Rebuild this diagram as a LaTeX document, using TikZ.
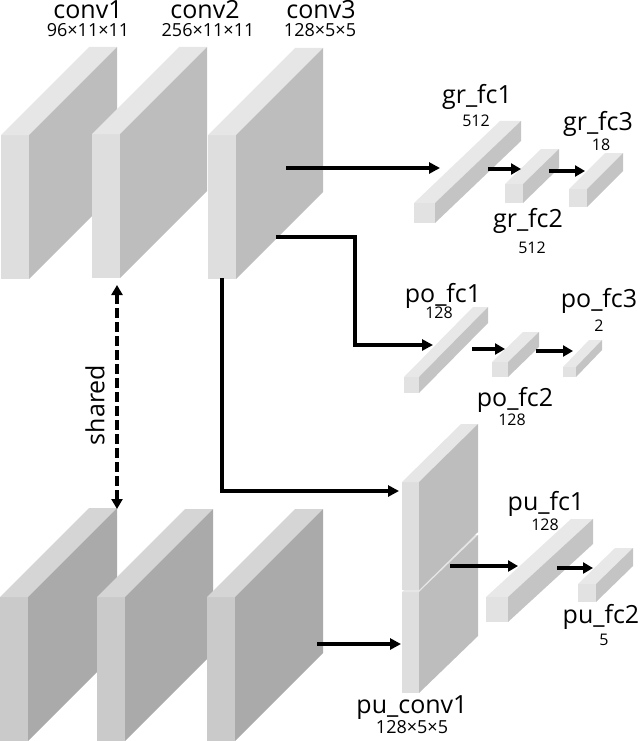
\documentclass[tikz,border=0pt]{standalone}
\usepackage{fontspec}
\setmainfont{Open Sans}
\usetikzlibrary{arrows.meta}
\definecolor{tF}{HTML}{DEDEDE}\definecolor{tT}{HTML}{E6E6E6}\definecolor{tS}{HTML}{BDBDBD}
\definecolor{bF}{HTML}{CACACA}\definecolor{bT}{HTML}{D5D5D5}\definecolor{bS}{HTML}{AAAAAA}
\definecolor{fF}{HTML}{E2E2E2}\definecolor{fT}{HTML}{E8E8E8}\definecolor{fS}{HTML}{C4C4C4}
\tikzset{
  tfront/.style={fill=tF}, ttop/.style={fill=tT}, tside/.style={fill=tS},
  bfront/.style={fill=bF}, btop/.style={fill=bT}, bside/.style={fill=bS},
  ffront/.style={fill=fF}, ftop/.style={fill=fT}, fside/.style={fill=fS},
  lblname/.style={font=\fontsize{25}{25}\selectfont, inner sep=0pt, anchor=base},
  lbldims/.style={font=\fontsize{18}{18}\selectfont, inner sep=0pt, anchor=base},
  lblnum/.style={font=\fontsize{16}{16}\selectfont, inner sep=0pt, anchor=base},
  conn/.style={line width=3.5pt, -{Triangle[length=11pt,width=11pt]}},
  sconn/.style={line width=4pt, -{Triangle[length=10pt,width=11pt]}},
}
% #1 style prefix, #2 x, #3 y (front top-left), #4 w, #5 h, #6 dx, #7 dy
\newcommand{\cuboid}[7]{%
  \fill[#1front] (#2,#3) rectangle ++(#4,#5);
  \fill[#1top] (#2,#3) -- ++(#6,-#7) -- ++(#4,0) -- ++(-#6,#7) -- cycle;
  \fill[#1side] (#2+#4,#3) -- ++(#6,-#7) -- ++(0,#5) -- ++(-#6,#7) -- cycle;
}
\begin{document}
\begin{tikzpicture}[x=1pt,y=-1pt]
\useasboundingbox (0,0) rectangle (640,741);
% top row
\cuboid{t}{1}{135}{28}{144}{88}{88}
\cuboid{t}{92}{134}{28}{144}{87}{87}
\cuboid{t}{208}{135}{28}{144}{87}{87}
% bottom row
\cuboid{b}{0}{597}{28}{144}{89}{89}
\cuboid{b}{97}{597}{28}{144}{88}{88}
\cuboid{b}{207}{597}{28}{144}{88}{88}
% pu_conv1 (two stacked)
\cuboid{t}{402}{592}{17}{101}{59}{57}
\cuboid{t}{402}{482}{17}{108}{59}{58}
% fc bars
\cuboid{f}{414}{203}{21}{20}{86}{82}
\cuboid{f}{505}{184}{18}{19}{36}{35}
\cuboid{f}{569}{189}{18}{18}{36}{36}
\cuboid{f}{404}{377}{15}{16}{69}{70}
\cuboid{f}{492}{362}{16}{15}{31}{30}
\cuboid{f}{563}{367}{13}{10}{26}{27}
\cuboid{f}{486}{597}{22}{25}{85}{78}
\cuboid{f}{578}{584}{18}{18}{37}{36}

% coordinates
\coordinate (c3a) at (286,168);  \coordinate (gr1in) at (440,168);
\coordinate (c3b) at (276,237);  \coordinate (po1in) at (433,345);
\coordinate (c3c) at (222,278);  \coordinate (pucA) at (399,491);
\coordinate (c3d) at (317,644);  \coordinate (pucB) at (401,644);
\coordinate (gr1o) at (488,169); \coordinate (gr2in) at (521,169);
\coordinate (gr2o) at (549,171); \coordinate (gr3in) at (585,171);
\coordinate (po1o) at (472,349); \coordinate (po2in) at (505,349);
\coordinate (po2o) at (536,351); \coordinate (po3in) at (573,351);
\coordinate (pucO) at (450,566); \coordinate (pu1in) at (518,566);
\coordinate (pu1o) at (557,568); \coordinate (pu2in) at (593,568);
\coordinate (shT) at (117,285);  \coordinate (shB) at (117,509);

\draw[conn] (c3a) -- (gr1in);
\draw[conn] (c3b) -- (355,237) |- (po1in);
\draw[conn] (c3c) |- (pucA);
\draw[conn] (c3d) -- (pucB);
\draw[sconn] (gr1o) -- (gr2in);
\draw[sconn] (gr2o) -- (gr3in);
\draw[sconn] (po1o) -- (po2in);
\draw[sconn] (po2o) -- (po3in);
\draw[sconn] (pucO) -- (pu1in);
\draw[sconn] (pu1o) -- (pu2in);
\draw[line width=4pt, dash pattern=on 10pt off 4pt, {Triangle[length=10pt,width=11pt]}-{Triangle[length=10pt,width=11pt]}] (shT) -- (shB);

% labels
\node[lblname] (lc1) at (88,19) {conv1};
\node[lbldims] (dc1) at (88,37) {96×11×11};
\node[lblname] (lc2) at (205,19) {conv2};
\node[lbldims] (dc2) at (208,37) {256×11×11};
\node[lblname] (lc3) at (321,19) {conv3};
\node[lbldims] (dc3) at (320,37) {128×5×5};
\node[lblname] (lg1) at (477,104) {gr\_fc1};
\node[lblnum] (ng1) at (476,126) {512};
\node[lblname] (lg3) at (598,131) {gr\_fc3};
\node[lblnum] (ng3) at (601,150) {18};
\node[lblname] (lg2) at (528,227) {gr\_fc2};
\node[lblnum] (ng2) at (532,253) {512};
\node[lblname] (lp1) at (443,302) {po\_fc1};
\node[lblnum] (np1) at (439,318) {128};
\node[lblname] (lp3) at (599,307) {po\_fc3};
\node[lblnum] (np3) at (599,331) {2};
\node[lblname] (lp2) at (515,406) {po\_fc2};
\node[lblnum] (np2) at (512,425) {128};
\node[lblname] (lu1) at (546,510) {pu\_fc1};
\node[lblnum] (nu1) at (545,530) {128};
\node[lblname] (lu2) at (601,623) {pu\_fc2};
\node[lblnum] (nu2) at (604,645) {5};
\node[lblname] (luc) at (412,713) {pu\_conv1};
\node[lbldims] (duc) at (412,733) {128×5×5};
\node[lblname, anchor=center, rotate=90] (lsh) at (95,405) {shared};
\end{tikzpicture}
\end{document}
